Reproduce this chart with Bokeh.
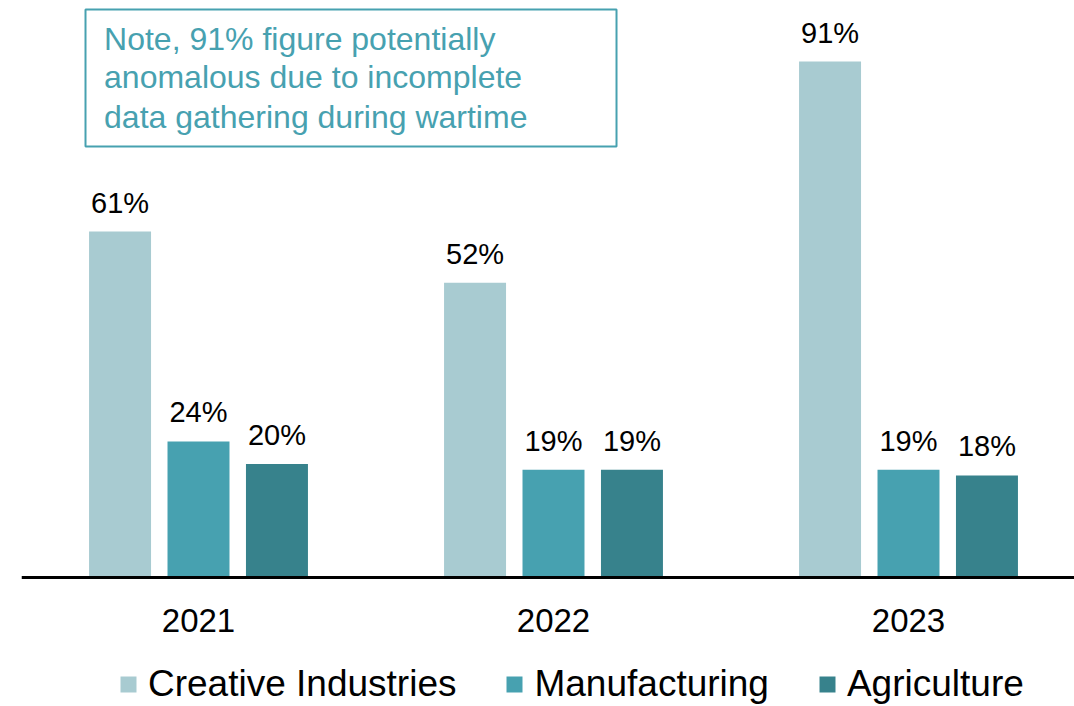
from bokeh.plotting import figure
from bokeh.models import (ColumnDataSource, LinearAxis, FixedTicker, Legend, LegendItem,
                          BoxAnnotation, Range1d, Label)
from bokeh.transform import dodge
from bokeh.core.properties import value
from bokeh.embed import file_html
from bokeh.resources import INLINE

# ---- data ----
years = ["2021", "2022", "2023"]
creative = [61, 52, 91]
manufacturing = [24, 19, 19]
agriculture = [20, 19, 18]
series_names = ["Creative Industries", "Manufacturing", "Agriculture"]
note_lines = ["Note, 91% figure potentially",
              "anomalous due to incomplete",
              "data gathering during wartime"]

# ---- style ----
FONT = "Liberation Sans"
colors = ["#a8cbd1", "#47a1b0", "#37828c"]
note_color = "#47a1b0"
offsets = [-0.221, 0.0, 0.221]
bar_w = 0.1746

src = ColumnDataSource(dict(
    x=list(range(len(years))),
    creative=creative, manufacturing=manufacturing, agriculture=agriculture,
    creative_lbl=[f"{v}%" for v in creative],
    manufacturing_lbl=[f"{v}%" for v in manufacturing],
    agriculture_lbl=[f"{v}%" for v in agriculture],
))

p = figure(width=1074, height=706,
           x_range=Range1d(-0.4986, 2.4676), y_range=Range1d(-22.75, 101.76),
           x_axis_location=None, y_axis_location=None,
           toolbar_location=None, output_backend="svg",
           min_border_left=21, min_border_right=0, min_border_top=0, min_border_bottom=0)
p.outline_line_color = None
p.background_fill_color = "white"
p.border_fill_color = "white"
p.xgrid.visible = False
p.ygrid.visible = False

renderers = []
for field, off, col in zip(["creative", "manufacturing", "agriculture"], offsets, colors):
    r = p.vbar(x=dodge("x", off, range=p.x_range), top=field, width=bar_w, bottom=0,
               source=src, fill_color=col, line_color=None)
    renderers.append(r)
    p.text(x=dodge("x", off, range=p.x_range), y=field, text=field + "_lbl", source=src,
           text_align="center", text_baseline="alphabetic", y_offset=-29,
           text_font=value(FONT), text_font_size="29px", text_color="#000000")

xaxis = LinearAxis(fixed_location=0,
                   ticker=FixedTicker(ticks=list(range(len(years)))),
                   major_label_overrides={i: y for i, y in enumerate(years)})
xaxis.axis_line_color = "#000000"
xaxis.axis_line_width = 3
xaxis.major_tick_line_color = None
xaxis.minor_tick_line_color = None
xaxis.major_tick_out = 0
xaxis.major_tick_in = 0
xaxis.major_label_standoff = 31
xaxis.major_label_text_font = FONT
xaxis.major_label_text_font_size = "33px"
xaxis.major_label_text_color = "#000000"
p.add_layout(xaxis, "below")

legend = Legend(items=[LegendItem(label=n, renderers=[r]) for n, r in zip(series_names, renderers)],
                orientation="horizontal", location=(97, 1),
                glyph_width=20, glyph_height=20, label_standoff=10, spacing=48,
                padding=0, margin=0, border_line_color=None, background_fill_alpha=0,
                label_text_font=FONT, label_text_font_size="37px", label_text_color="#000000")
p.add_layout(legend)

box = BoxAnnotation(left=-0.3183, right=1.1775, top=100.18, bottom=76.01,
                    fill_alpha=0, line_color=note_color, line_alpha=1.0, line_width=2)
p.add_layout(box)
for line, yy in zip(note_lines, [94.9, 88.2, 81.3]):
    p.add_layout(Label(x=-0.266, y=yy, text=line, text_baseline="alphabetic",
                       text_font=FONT, text_font_size="32px", text_color=note_color))

open("out.html", "w").write(file_html(p, INLINE))
